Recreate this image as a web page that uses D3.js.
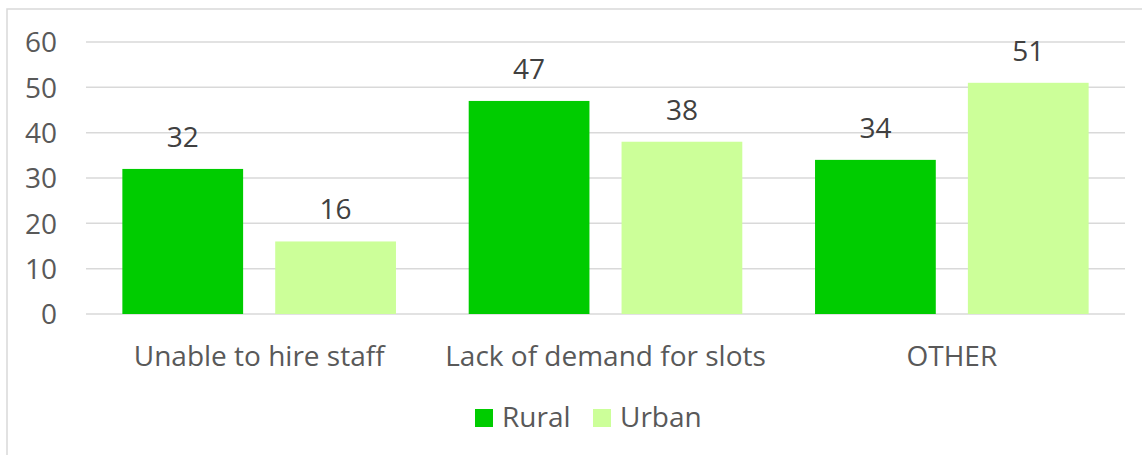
<!DOCTYPE html>
<html>
<head>
<meta charset="utf-8">
<script src="https://cdn.jsdelivr.net/npm/d3@7"></script>
<style>
  body { margin: 0; background: #fff; }
  text { font-family: "Open Sans", sans-serif; }
</style>
</head>
<body>
<svg id="chart"></svg>
<script>
let categories = ["Unable to hire staff", "Lack of demand for slots", "OTHER"];
let seriesNames = ["Rural", "Urban"];
let rural = [32, 47, 34];
let urban = [16, 38, 51];
let yTicks = [0, 10, 20, 30, 40, 50, 60];
let colors = ["#00CC00", "#CCFF99"];

let ancho = 1142, alto = 455;
let svg = d3.select("#chart").attr("width", ancho).attr("height", alto);

// borde del grafico
svg.append("rect")
    .attr("x", 7).attr("y", 9)
    .attr("width", 1150).attr("height", 460)
    .attr("fill", "none")
    .attr("stroke", "#d9d9d9")
    .attr("stroke-width", 1.5);

let x0 = d3.scaleBand().domain(categories).range([86, 1125]).paddingInner(0.21).paddingOuter(0.105);
let x1 = d3.scaleBand().domain(seriesNames).range([0, x0.bandwidth()]).paddingInner(0.21);
let y = d3.scaleLinear().domain([0, 60]).range([314, 42]);
let color = d3.scaleOrdinal().domain(seriesNames).range(colors);

// lineas de la grilla
svg.append("g").selectAll("line")
    .data(yTicks)
    .enter()
    .append("line")
    .attr("x1", 86).attr("x2", 1125)
    .attr("y1", d => y(d)).attr("y2", d => y(d))
    .attr("stroke", "#d9d9d9")
    .attr("stroke-width", 1.5);

// eje y
let yAxis = svg.append("g")
    .attr("transform", "translate(57,0)")
    .call(d3.axisLeft(y).tickValues(yTicks).tickSize(0).tickPadding(0));
yAxis.select(".domain").remove();
yAxis.selectAll("text")
    .attr("fill", "#595959")
    .style("font-size", "28px")
    .attr("dy", "0.35em");

// eje x
let xAxis = svg.append("g")
    .attr("transform", "translate(0,314)")
    .call(d3.axisBottom(x0).tickSize(0).tickPadding(0));
xAxis.select(".domain").remove();
xAxis.selectAll("text")
    .attr("fill", "#595959")
    .style("font-size", "28px")
    .attr("y", 52)
    .attr("dy", 0);

let rows = categories.map((c, i) => ({
    cat: c,
    vals: [{ s: "Rural", v: rural[i] }, { s: "Urban", v: urban[i] }]
}));

let grupos = svg.append("g").selectAll("g")
    .data(rows)
    .enter()
    .append("g")
    .attr("transform", d => "translate(" + x0(d.cat) + ",0)");

grupos.selectAll("rect")
    .data(d => d.vals)
    .enter()
    .append("rect")
    .attr("x", d => x1(d.s))
    .attr("y", d => y(d.v))
    .attr("width", x1.bandwidth())
    .attr("height", d => y(0) - y(d.v))
    .attr("fill", d => color(d.s));

grupos.selectAll("text")
    .data(d => d.vals)
    .enter()
    .append("text")
    .attr("x", d => x1(d.s) + x1.bandwidth() / 2)
    .attr("y", d => y(d.v) - 22)
    .attr("text-anchor", "middle")
    .attr("fill", "#404040")
    .style("font-size", "28px")
    .text(d => d.v);

// leyenda
let leyenda = svg.append("g").selectAll("g")
    .data(seriesNames)
    .enter()
    .append("g")
    .attr("transform", (d, i) => "translate(" + [475, 593][i] + ",409)");

leyenda.append("rect")
    .attr("width", 18).attr("height", 18)
    .attr("fill", d => color(d));

leyenda.append("text")
    .attr("x", 27).attr("y", 18)
    .attr("fill", "#595959")
    .style("font-size", "28px")
    .text(d => d);
</script>
</body>
</html>
